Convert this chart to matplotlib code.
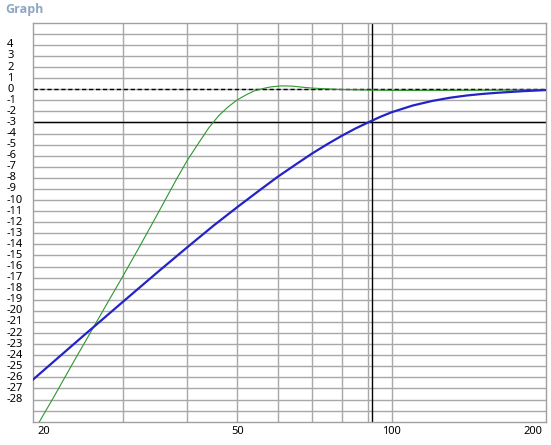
import matplotlib
matplotlib.use("Agg")
import matplotlib.pyplot as plt
import matplotlib.transforms as mtransforms

plt.rcParams['font.family'] = ['Noto Sans', 'DejaVu Sans']

# blue response
blue_f = [20, 25, 30, 35, 40, 45, 50, 55, 60, 65, 70, 75, 80, 85, 90, 95, 100,
          110, 120, 130, 140, 150, 160, 180, 200]
blue_db = [-26.2, -22.3, -19.15, -16.5, -14.25, -12.3, -10.65, -9.2, -7.9, -6.8,
           -5.8, -4.95, -4.2, -3.55, -3.0, -2.5, -2.08, -1.47, -1.06, -0.77,
           -0.57, -0.43, -0.33, -0.18, -0.08]

# green response
green_f = [20, 22, 24, 26, 28, 30, 32, 34, 36, 38, 40, 42, 44, 46, 48, 50, 52,
           54, 56, 58, 61, 64, 67, 70, 75, 80, 90, 100, 120, 150, 200]
green_db = [-31.0, -27.7, -24.6, -21.8, -19.2, -16.8, -14.5, -12.3, -10.2, -8.2,
            -6.4, -4.9, -3.5, -2.4, -1.6, -0.97, -0.52, -0.15, 0.05, 0.2,
            0.3, 0.28, 0.18, 0.1, 0.03, -0.03, -0.08, -0.11, -0.12, -0.1, -0.06]

x_grid = [30, 40, 50, 60, 70, 80, 90, 100]
x_labels = [20, 50, 100, 200]
y_grid = list(range(-29, 6))
y_labels = list(range(4, -29, -1))
marker_f = 91.7
ref_levels = [0, -3]

fig = plt.figure(figsize=(5.51, 4.45), dpi=100)
ax = fig.add_axes([33 / 551, (445 - 421.7) / 445, 513 / 551, 399 / 445])
ax.set_xscale('log')
ax.set_xlim(20, 200)
ax.set_ylim(-30, 6)
ax.set_xticks([])
ax.set_yticks([])
ax.minorticks_off()
ax.tick_params(which='both', length=0, labelbottom=False, labelleft=False)
for s in ax.spines.values():
    s.set_color('#a0a0a0')
    s.set_linewidth(1)

for f in x_grid:
    ax.axvline(f, color='#a8a8a8', lw=1, zorder=1)
for v in y_grid:
    ax.axhline(v, color='#a8a8a8', lw=1, zorder=1)

ax.axhline(ref_levels[0], color='black', lw=1, ls=(0, (3, 2)), zorder=2)
ax.axhline(ref_levels[1], color='black', lw=1, zorder=2)
ax.axvline(marker_f, color='black', lw=1, zorder=2)

ax.plot(green_f, green_db, color='#2e962e', lw=0.8, zorder=3)
ax.plot(blue_f, blue_db, color='#2323c8', lw=1.6, zorder=4)

# y labels, left aligned near the figure edge
ty = mtransforms.blended_transform_factory(fig.transFigure, ax.transData)
for v in y_labels:
    ax.text(7 / 551, v, str(v), transform=ty, ha='left', va='center',
            fontsize=8, color='black')

# x labels
tx = mtransforms.blended_transform_factory(ax.transData, fig.transFigure)
for f in x_labels:
    ha = 'center'
    off = 0
    if f == x_labels[0]:
        ha, off = 'left', 4 / 100
    elif f == x_labels[-1]:
        ha, off = 'right', -4 / 100
    t = tx + mtransforms.ScaledTranslation(off, 0, fig.dpi_scale_trans)
    ax.text(f, (445 - 431) / 445, str(f), transform=t, ha=ha, va='center',
            fontsize=8, color='black')

fig.text(5 / 551, 1 - 10 / 445, 'Graph', ha='left', va='center',
         fontsize=9, fontweight='bold', color='#8ea6c4',
         family=['Open Sans', 'DejaVu Sans'])

fig.savefig('out.png', dpi=100)
